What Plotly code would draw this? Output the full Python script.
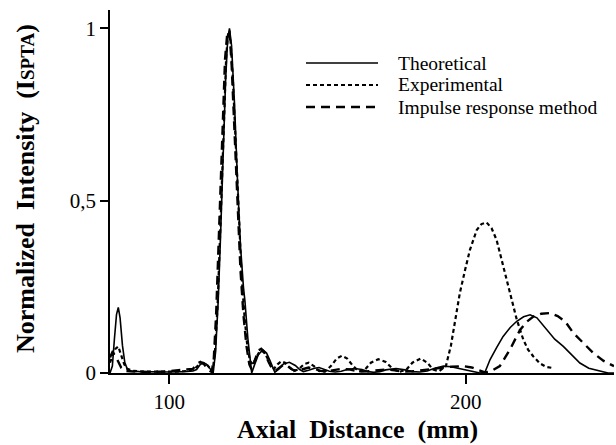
import plotly.graph_objects as go

# ---------------- data ----------------
theo_x = [80, 80.8, 81.5, 82.2, 82.8, 83.4, 84.2, 85, 85.8, 87, 90, 95, 100, 105, 108,
          109.2, 110.5, 111.5, 112.5, 113.8, 114.8, 115.6, 116.5, 117.3, 118.2, 119, 119.7,
          120.3, 121, 122, 123, 124, 125, 125.5, 126.5, 127.2, 127.8, 128.8, 130, 131.5,
          132.8, 134, 135.6, 137, 138.5, 140.5, 142.5, 144, 145.2, 147, 149, 150.5, 152.5,
          154, 156, 158, 160, 162.5, 165, 167, 169, 171, 173, 176.5, 179.5, 182, 184.5, 187,
          189.5, 192.5, 195, 198, 201, 204.8, 206.5, 208.2, 210.5, 212.6, 215, 217.2, 219.5,
          221.7, 224, 227.3, 230, 232.9, 236, 238.5, 241.5, 245.3, 248, 250]
theo_y = [0.0, 0.02, 0.10, 0.17, 0.19, 0.16, 0.08, 0.03, 0.012, 0.006, 0.004, 0.003, 0.003,
          0.004, 0.006, 0.01, 0.025, 0.03, 0.026, 0.012, 0.0, 0.06, 0.21, 0.40, 0.65, 0.85,
          0.97, 1.0, 0.95, 0.78, 0.56, 0.37, 0.25, 0.21, 0.10, 0.04, 0.0, 0.025, 0.052, 0.068,
          0.058, 0.035, 0.002, 0.012, 0.026, 0.031, 0.022, 0.01, 0.004, 0.008, 0.014, 0.016,
          0.011, 0.005, 0.003, 0.005, 0.01, 0.013, 0.01, 0.004, 0.002, 0.004, 0.009, 0.013,
          0.009, 0.004, 0.003, 0.006, 0.014, 0.02, 0.018, 0.012, 0.006, 0.0, 0.003, 0.039,
          0.075, 0.106, 0.132, 0.15, 0.163, 0.169, 0.16, 0.125, 0.098, 0.077, 0.05, 0.029,
          0.014, 0.005, 0.0, 0.0]

exp_x = [80, 80.8, 81.8, 82.8, 83.8, 84.8, 85.8, 88, 92, 97, 102, 106, 108.5, 110, 111.2,
         112.5, 113.8, 114.6, 115.4, 116.3, 117.3, 118.3, 119.2, 119.9, 120.6, 121.4, 122.4,
         123.4, 124.4, 125.4, 126.3, 127.2, 128.2, 129.3, 130.5, 131.8, 133, 134.2, 135.3,
         136.5, 137.8, 139, 140.5, 142, 143.5, 145.5, 147, 148.8, 150.5, 152.5, 154.5, 156.5,
         158.2, 160, 162, 164, 166, 168, 170.5, 173, 175, 177.5, 180, 182, 184.8, 187, 189,
         191, 193.3, 195, 196.6, 198, 199.8, 201.4, 203.7, 205.3, 207, 208.7, 210.4, 212.1,
         213.8, 215.5, 217.2, 219.4, 221, 222.8, 225, 227, 229]
exp_y = [0.03, 0.05, 0.07, 0.077, 0.05, 0.025, 0.012, 0.006, 0.004, 0.003, 0.004, 0.006,
         0.012, 0.024, 0.03, 0.026, 0.012, 0.005, 0.06, 0.2, 0.44, 0.72, 0.92, 0.99, 0.97,
         0.86, 0.65, 0.44, 0.28, 0.16, 0.08, 0.035, 0.025, 0.045, 0.063, 0.062, 0.045, 0.022,
         0.012, 0.025, 0.034, 0.03, 0.016, 0.006, 0.01, 0.026, 0.03, 0.02, 0.006, 0.004, 0.02,
         0.042, 0.05, 0.042, 0.02, 0.004, 0.01, 0.03, 0.04, 0.032, 0.015, 0.003, 0.01, 0.03,
         0.042, 0.03, 0.01, 0.005, 0.02, 0.08, 0.16, 0.232, 0.3, 0.357, 0.415, 0.432, 0.437,
         0.42, 0.386, 0.33, 0.27, 0.21, 0.155, 0.097, 0.068, 0.048, 0.028, 0.018, 0.015]

imp_x = [80, 80.8, 81.8, 82.8, 83.8, 85, 88, 93, 98, 103, 106, 108, 109.5, 110.5, 111.8,
         113, 114.3, 115, 115.8, 116.8, 117.8, 118.8, 119.6, 120.3, 121, 122, 123, 124, 125,
         126, 127, 127.8, 128.8, 130, 131, 132.2, 133.5, 134.8, 135.8, 137, 138.5, 140, 141.5,
         143, 145, 147, 149, 151, 153, 155, 158, 161, 164, 167, 170, 173, 176, 179, 182, 185,
         188, 191, 195, 199, 202, 204.5, 206.5, 208.5, 211.5, 214.9, 218.3, 220.5, 222.8,
         225.5, 228.4, 231, 233.5, 236.3, 239.5, 243, 246.5, 250]
imp_y = [0.045, 0.06, 0.05, 0.03, 0.015, 0.006, 0.004, 0.003, 0.004, 0.008, 0.01, 0.012,
         0.028, 0.032, 0.025, 0.01, 0.003, 0.04, 0.17, 0.42, 0.70, 0.91, 0.99, 0.99, 0.90,
         0.70, 0.48, 0.30, 0.17, 0.08, 0.025, 0.01, 0.035, 0.065, 0.07, 0.058, 0.032, 0.01,
         0.006, 0.015, 0.024, 0.02, 0.01, 0.006, 0.012, 0.016, 0.012, 0.006, 0.005, 0.008,
         0.012, 0.01, 0.004, 0.005, 0.008, 0.01, 0.008, 0.004, 0.005, 0.008, 0.012, 0.015,
         0.018, 0.02, 0.016, 0.008, 0.002, 0.005, 0.02, 0.068, 0.125, 0.148, 0.164, 0.172,
         0.174, 0.165, 0.15, 0.116, 0.088, 0.058, 0.035, 0.02]

series_names = ["Theoretical", "Experimental", "Impulse response method"]
x_ticks = [100, 200]
x_ticktext = ["100", "200"]
y_ticks = [0, 0.5, 1]
y_ticktext = ["0", "0,5", "1"]

# ---------------- styling ----------------
FONT = "Liberation Serif, Times New Roman, serif"
styles = [dict(width=1.6, dash="solid"),
          dict(width=2.2, dash="4px,3px"),
          dict(width=2.4, dash="9px,6px")]

fig = go.Figure()
for name, xs, ys, st in zip(series_names, [theo_x, exp_x, imp_x],
                            [theo_y, exp_y, imp_y], styles):
    fig.add_trace(go.Scatter(x=xs, y=ys, mode="lines", name=name,
                             line=dict(color="black", width=st["width"], dash=st["dash"]),
                             showlegend=False))

L, R, T, B = 110, 2, 10, 72
W, H = 616, 445
pw, ph = W - L - R, H - T - B

def px_to_paper_x(px):
    return (px - L) / pw

def px_to_paper_y(py):
    return (H - B - py) / ph

# custom legend (long line samples as in the reference)
leg_y = [63, 85, 107]
for name, st, yy in zip(series_names, styles, leg_y):
    fig.add_shape(type="line", xref="paper", yref="paper",
                  x0=px_to_paper_x(306), x1=px_to_paper_x(378),
                  y0=px_to_paper_y(yy), y1=px_to_paper_y(yy),
                  line=dict(color="black", width=st["width"], dash=st["dash"]))
    fig.add_annotation(text=name, xref="paper", yref="paper",
                       x=px_to_paper_x(397), y=px_to_paper_y(yy),
                       xanchor="left", yanchor="middle", showarrow=False,
                       borderpad=0,
                       font=dict(family=FONT, size=19.5, color="black"))

# axis titles
fig.add_annotation(text="<b>Axial\u00a0\u00a0Distance\u00a0\u00a0(mm)</b>",
                   xref="paper", yref="paper", x=px_to_paper_x(357), y=px_to_paper_y(429),
                   xanchor="center", yanchor="middle", showarrow=False, borderpad=0,
                   font=dict(family=FONT, size=26, color="black"))
fig.add_annotation(text="<b>Normalized\u00a0\u00a0Intensity\u00a0\u00a0(I<span style='font-size:19px'>SPTA</span>)</b>",
                   xref="paper", yref="paper", x=px_to_paper_x(25), y=px_to_paper_y(189),
                   xanchor="center", yanchor="middle", textangle=-90, showarrow=False,
                   borderpad=0,
                   font=dict(family=FONT, size=26, color="black"))

fig.update_layout(
    width=W, height=H,
    margin=dict(l=L, r=R, t=T, b=B, pad=0),
    paper_bgcolor="white", plot_bgcolor="white",
    font=dict(family=FONT, size=21, color="black"),
    showlegend=False,
)
fig.update_xaxes(range=[80, 250], showline=True, linecolor="black", linewidth=1.5,
                 showgrid=False, zeroline=False, ticks="outside", ticklen=9,
                 tickwidth=1.5, tickcolor="black", tickvals=x_ticks, ticktext=x_ticktext,
                 tickfont=dict(family=FONT, size=21, color="black"))
fig.update_yaxes(range=[0, 1.053], showline=True, linecolor="black", linewidth=1.5,
                 showgrid=False, zeroline=False, ticks="outside", ticklen=8,
                 tickwidth=1.5, tickcolor="black", tickvals=y_ticks, ticktext=y_ticktext,
                 tickfont=dict(family=FONT, size=21, color="black"))

fig.write_html("out.html")
